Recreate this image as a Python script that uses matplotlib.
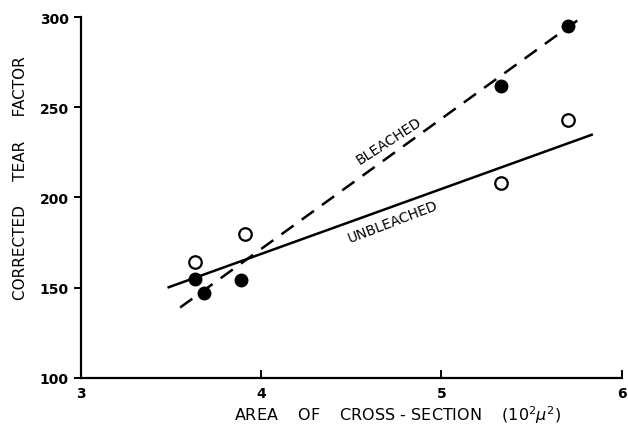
import matplotlib
matplotlib.use("Agg")
import matplotlib.pyplot as plt

# open circles
unbleached_x = [3.63, 3.91, 5.33, 5.70]
unbleached_y = [164, 180, 208, 243]
# filled circles
bleached_x = [3.63, 3.68, 3.89, 5.33, 5.70]
bleached_y = [155, 147, 154, 262, 295]

# fitted lines (end points)
unbleached_line_x = [3.48, 5.84]
unbleached_line_y = [150, 235]
bleached_line_x = [3.55, 5.78]
bleached_line_y = [139, 300]

xticks = [3, 4, 5, 6]
yticks = [100, 150, 200, 250, 300]


def main():
    plt.rcParams['font.family'] = ['DejaVu Sans']
    fig = plt.figure(figsize=(6.28, 4.31), dpi=100)
    ax = fig.add_axes([0.129, 0.121, 0.861, 0.837])

    ax.plot(unbleached_line_x, unbleached_line_y, color='black', lw=1.8, solid_capstyle='butt')
    ax.plot(bleached_line_x, bleached_line_y, color='black', lw=1.8, dashes=(6, 4))

    ax.plot(unbleached_x, unbleached_y, 'o', ms=9, mfc='white', mec='black', mew=1.6, ls='none')
    ax.plot(bleached_x, bleached_y, 'o', ms=9, mfc='black', mec='black', ls='none')

    ax.text(4.71, 232, 'BLEACHED', rotation=33, ha='center', va='center', fontsize=10)
    ax.text(4.73, 187, 'UNBLEACHED', rotation=21, ha='center', va='center', fontsize=10)

    ax.set_xlim(3, 6)
    ax.set_ylim(100, 300)
    ax.set_xticks(xticks)
    ax.set_yticks(yticks)
    ax.tick_params(axis='x', direction='in', length=6, width=1.4, labelsize=10, pad=6)
    ax.tick_params(axis='y', direction='out', length=5, width=1.4, labelsize=10, pad=4)
    for lab in ax.get_xticklabels() + ax.get_yticklabels():
        lab.set_fontweight('bold')

    for side in ['top', 'right']:
        ax.spines[side].set_visible(False)
    for side in ['left', 'bottom']:
        ax.spines[side].set_linewidth(1.6)

    ax.set_xlabel(r'AREA    OF    CROSS - SECTION    $(10^{2}\mu^{2})$', fontsize=11.5, labelpad=2, x=0.586)
    ax.set_ylabel('CORRECTED     TEAR     FACTOR', fontsize=11, labelpad=8, y=0.557)

    fig.savefig('out.png', dpi=100)


if __name__ == "__main__":
    main()
